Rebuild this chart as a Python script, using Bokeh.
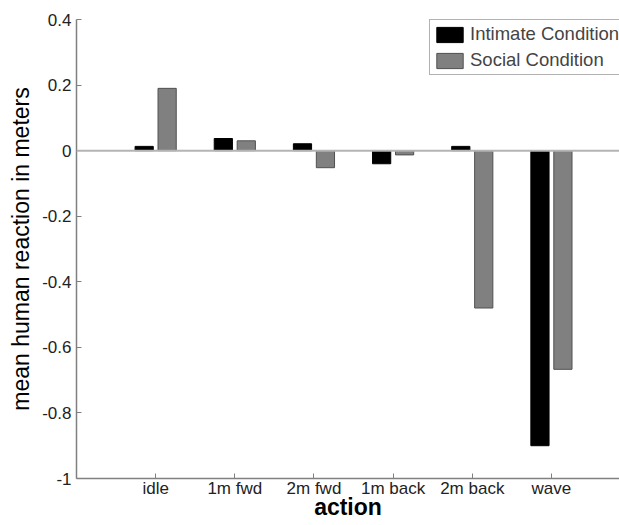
from bokeh.plotting import figure
from bokeh.models import (ColumnDataSource, Range1d, FixedTicker, Span, Legend,
                          LegendItem, CustomJSTickFormatter)
from bokeh.transform import dodge
from bokeh.embed import file_html
from bokeh.resources import INLINE

actions = ["idle", "1m fwd", "2m fwd", "1m back", "2m back", "wave"]
intimate = [0.013, 0.037, 0.021, -0.040, 0.013, -0.900]
social = [0.190, 0.030, -0.052, -0.013, -0.480, -0.667]
y_ticks = [-1.0, -0.8, -0.6, -0.4, -0.2, 0.0, 0.2, 0.4]

pos = list(range(1, len(actions) + 1))
src = ColumnDataSource(dict(pos=pos, intimate=intimate, social=social))

FONT = "Liberation Sans"

p = figure(width=619, height=525, output_backend="svg", toolbar_location=None,
           x_range=Range1d(0, 6.86), y_range=Range1d(-1.0, 0.4),
           min_border_left=76, min_border_top=19, min_border_bottom=47,
           min_border_right=0)
p.outline_line_color = None
p.xgrid.visible = False
p.ygrid.visible = False
p.background_fill_color = "white"
p.border_fill_color = "white"

r1 = p.vbar(x=dodge("pos", -0.145), top="intimate", bottom=0, width=0.23, source=src,
            fill_color="black", line_color="black", line_width=1)
r2 = p.vbar(x=dodge("pos", 0.145), top="social", bottom=0, width=0.23, source=src,
            fill_color="#808080", line_color="#505050", line_width=1)

p.add_layout(Span(location=0, dimension="width", line_color="#b4b4b4", line_width=2))

# axes
for ax in (p.xaxis[0], p.yaxis[0]):
    ax.axis_line_color = "#808080"
    ax.axis_line_width = 1.5
    ax.major_tick_line_color = "#808080"
    ax.major_tick_in = 5
    ax.major_tick_out = 0
    ax.minor_tick_line_color = None
    ax.major_label_text_font = FONT
    ax.major_label_text_font_size = "17px"
    ax.major_label_text_color = "#222222"
    ax.axis_label_text_font = FONT
    ax.axis_label_text_font_size = "23px"
    ax.axis_label_text_font_style = "normal"
    ax.axis_label_text_color = "black"

p.xaxis.ticker = FixedTicker(ticks=pos)
p.xaxis.major_label_overrides = {i: a for i, a in zip(pos, actions)}
p.xaxis.axis_label = "action"
p.xaxis.axis_label_text_font_style = "bold"
p.xaxis.major_label_standoff = 0
p.xaxis.axis_label_standoff = -7

p.yaxis.ticker = FixedTicker(ticks=y_ticks)
p.yaxis.formatter = CustomJSTickFormatter(code="return String(Math.round(tick*10)/10);")
p.yaxis.axis_label = "mean human reaction in meters"
p.yaxis.major_label_standoff = 5
p.yaxis.axis_label_standoff = 5

legend = Legend(items=[LegendItem(label="Intimate Condition", renderers=[r1]),
                       LegendItem(label="Social Condition", renderers=[r2])],
                location=(353, 403), orientation="vertical")
legend.glyph_width = 33
legend.glyph_height = 19
legend.label_height = 19
legend.label_standoff = 4
legend.padding = 3
legend.spacing = 4
legend.margin = 0
legend.label_text_font = FONT
legend.label_text_font_size = "18.5px"
legend.border_line_color = "#666666"
legend.border_line_width = 1
legend.background_fill_color = "white"
legend.background_fill_alpha = 1.0
p.add_layout(legend, "center")

open("out.html", "w").write(file_html(p, INLINE))
